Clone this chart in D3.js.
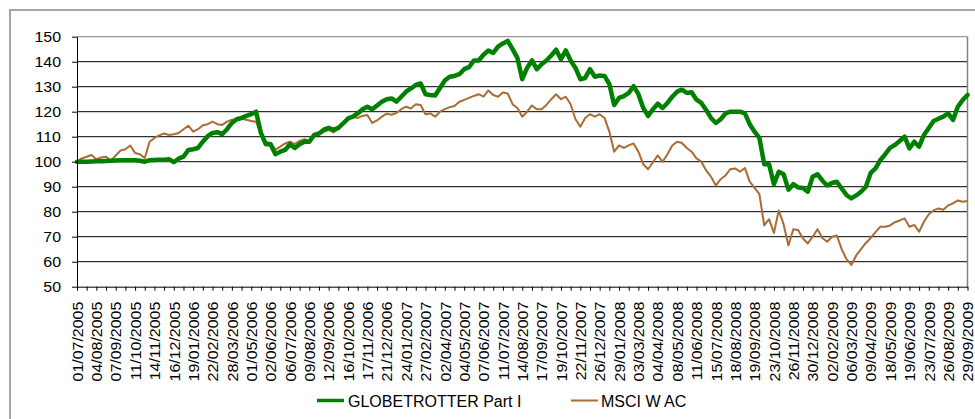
<!DOCTYPE html>
<html><head><meta charset="utf-8">
<script src="https://cdn.jsdelivr.net/npm/d3@7"></script>
<style>
body{margin:0;background:#fff;}
svg{display:block;font-family:"Liberation Sans",Arial,sans-serif;}
</style>
</head><body>
<svg id="c" width="975" height="419"></svg>
<script>
// ---- DATA ----
const tickLabels = ["01/07/2005","04/08/2005","07/09/2005","11/10/2005","14/11/2005","16/12/2005","19/01/2006","22/02/2006","28/03/2006","01/05/2006","02/06/2006","06/07/2006","09/08/2006","12/09/2006","16/10/2006","17/11/2006","21/12/2006","24/01/2007","27/02/2007","02/04/2007","04/05/2007","07/06/2007","11/07/2007","14/08/2007","17/09/2007","19/10/2007","22/11/2007","26/12/2007","29/01/2008","03/03/2008","04/04/2008","08/05/2008","11/06/2008","15/07/2008","18/08/2008","19/09/2008","23/10/2008","26/11/2008","30/12/2008","02/02/2009","06/03/2009","09/04/2009","18/05/2009","19/06/2009","23/07/2009","26/08/2009","29/09/2009"];
const seriesNames = ["GLOBETROTTER Part I","MSCI W AC"];
const yTicks = [50,60,70,80,90,100,110,120,130,140,150];
// values sampled 4 times per label interval
const samplesPerLabel = 4;
const globetrotter = [
100,100,100,100.1,100.2,100.2,100.3,100.4,100.5,100.6,100.6,100.6,100.6,100.4,
100.0,100.6,100.7,100.8,100.8,101,99.8,101.2,102,104.7,105,105.5,108,110.2,111.5,111.8,111,113,
115.5,117,117.5,118.3,119,120,111.5,107,107,103,104,104.7,107,105.5,107,108,108,110.7,111.3,112.8,113.5,112.7,113.5,115.3,117.3,118,119.3,121,122,121,122.5,124,
125,125.3,124,126,128,129.3,130.7,131.3,127,126.7,126.5,129.5,132.5,134,134.3,135,137,137.8,140.5,140.5,142.8,144.5,143.5,146,147.3,148.3,145,141.5,133,137.5,
140.5,137,139,140.5,142.5,144.8,141,144.5,140.5,137.5,133,133.5,137,134,134.5,134.3,131,122.7,125.5,126.2,127.5,130.2,127,121.5,118.3,121,123.2,121.5,123.5,126,128,
128.8,127.5,127.8,124.8,123.5,120.7,117.5,115.5,117,119.3,120,120,120,119.3,115,112,109.5,99,99,91,96,95,88.8,91,89.7,89.5,88,94,95,92.5,90.5,
91.5,92,89.3,86.7,85.3,86.5,88,90,95.5,97.3,100.7,103,105.5,106.7,108.3,110,105.3,108,106,110.7,113.5,116.3,117.2,118,119.3,116.7,122,124.7,126.7
];
const msci = [
100,101.3,102,102.7,101,101.7,102,100.5,102.5,104.5,105,106.5,103.5,103,101.5,108,109.5,110.5,111.3,110.7,111,111.5,113,114.4,112,113,114.6,115,116,115,114.7,116,
116.8,117,117.2,116.8,116.3,116,111,108,107.5,104.8,106,107.3,108,107,108.3,109,108.2,110.7,110.7,112,112.7,111.7,113.3,115,116.7,118,117.5,118.3,118.7,115.5,116.5,118,
119.2,118.8,119.5,121,122,121.3,123,122.7,119,119.3,118,120,121,121.8,122.3,124,124.7,125.5,126.3,127,126,128.5,126.7,126,127.7,127.3,123,121.5,118,120,
122.5,121,121,122.7,125,127,125,126,123,117,114,117.5,119,118,119,117.5,112,104,106.5,105.5,106.5,107.3,104,99,97,99.8,102.5,100,103,106.5,108,
107.5,105.5,104,101.3,100,96.5,94,90.5,93,94.5,97,97.3,96,97.5,92,89.5,87,74.5,77,71.5,80.5,75,66.5,73,72.7,69.3,67.3,70,73,69.5,68,
70,70.5,65,61,58.7,62.5,65,67.5,69.5,71.8,74,74,74.5,75.8,76.5,77.3,74,74.7,72,76,79,80.5,81.3,80.8,82.5,83.3,84.5,84,84.3
];
const colors = ["#008000","#A86D34"];

// ---- CHART ----
const svg = d3.select("#c");
const plot = {left:77, right:967.5, top:36.7, bottom:286.7};
const x = d3.scaleLinear().domain([0, tickLabels.length-1]).range([plot.left, plot.right]);
const y = d3.scaleLinear().domain([50,150]).range([plot.bottom, plot.top]);

// outer border
svg.append("rect").attr("x",10).attr("y",10).attr("width",990).attr("height",440)
  .attr("fill","none").attr("stroke","#a6a6a6").attr("stroke-width",2);

// gridlines
svg.append("g").selectAll("line").data(yTicks.filter(d=>d>50)).join("line")
  .attr("x1",plot.left).attr("x2",plot.right)
  .attr("y1",d=>y(d)).attr("y2",d=>y(d))
  .attr("stroke",d=>d===150?"#808080":"#000").attr("stroke-width",1);
// right plot border
svg.append("line").attr("x1",plot.right).attr("x2",plot.right)
  .attr("y1",plot.top).attr("y2",plot.bottom).attr("stroke","#808080").attr("stroke-width",1.5);

// series
const line = d3.line().x((d,i)=>x(i/samplesPerLabel)).y(d=>y(d));
svg.append("path").datum(msci).attr("d",line).attr("fill","none")
  .attr("stroke",colors[1]).attr("stroke-width",2).attr("stroke-linejoin","round");
svg.append("path").datum(globetrotter).attr("d",line).attr("fill","none")
  .attr("stroke",colors[0]).attr("stroke-width",4.5).attr("stroke-linejoin","round").attr("stroke-linecap","round");

// y axis
const ya = svg.append("g").attr("transform",`translate(${plot.left},0)`)
  .call(d3.axisLeft(y).tickValues(yTicks).tickSize(5).tickSizeOuter(0).tickPadding(11));
ya.selectAll("line,path").attr("stroke","#000");
ya.selectAll("text").attr("font-size",14.5).attr("fill","#000")
  .attr("x",null).attr("text-anchor","end")
  .attr("transform","translate(-16,0) scale(1.1,1)");

// x axis
const xa = svg.append("g").attr("transform",`translate(0,${plot.bottom})`)
  .call(d3.axisBottom(x).tickValues(d3.range(0, tickLabels.length-0.999, 0.5)).tickSize(4).tickSizeOuter(0)
    .tickFormat(d=>Number.isInteger(d)?tickLabels[d]:""));
xa.selectAll("line,path").attr("stroke","#000");
xa.selectAll("text").attr("font-size",14.5).attr("fill","#000")
  .attr("transform","rotate(-90) translate(-15,0) scale(1.1,1)").attr("text-anchor","end")
  .attr("x",0).attr("y",0).attr("dy","0.36em");

// legend
const legend = [{x1:317,x2:344,tx:348,w:3.5},{x1:571,x2:598,tx:601,w:2}];
legend.forEach((l,i)=>{
  svg.append("line").attr("x1",l.x1).attr("x2",l.x2).attr("y1",400.5).attr("y2",400.5)
    .attr("stroke",colors[i]).attr("stroke-width",l.w);
  svg.append("text").attr("x",l.tx).attr("y",406.5).attr("font-size",16).attr("fill","#000").text(seriesNames[i]);
});
</script>
</body></html>
